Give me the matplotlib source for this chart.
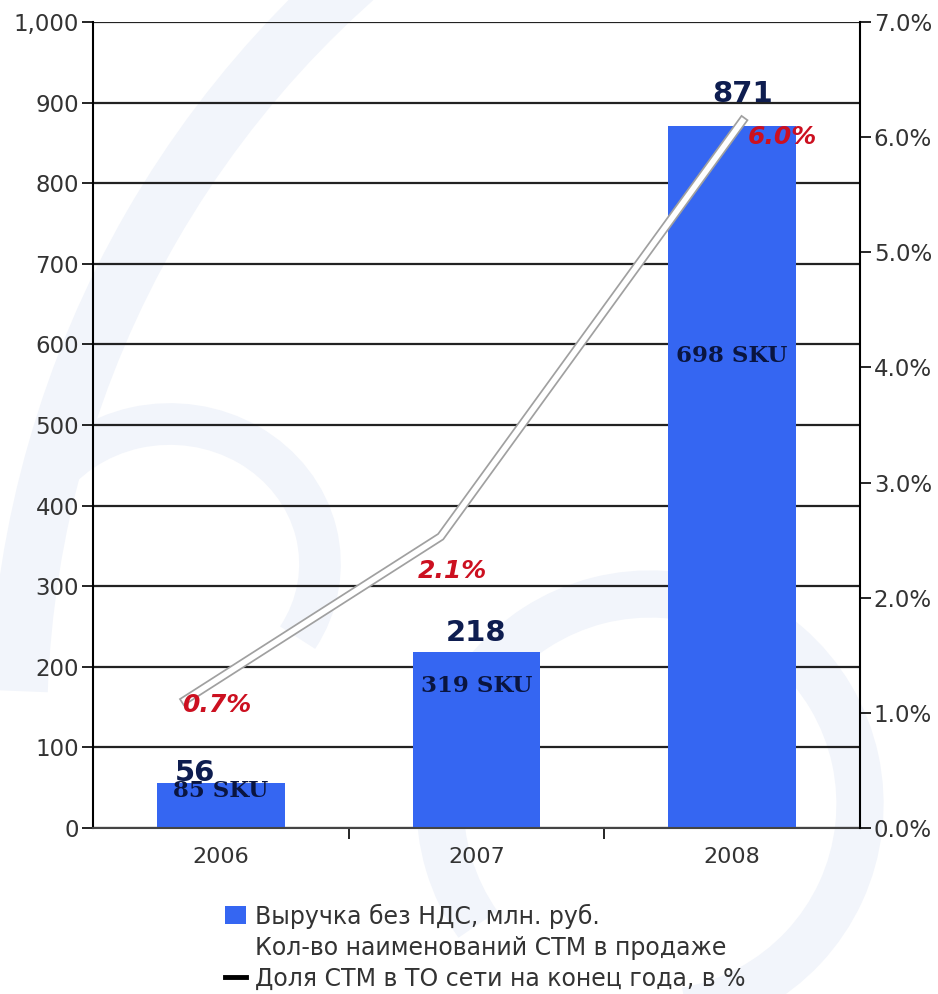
import matplotlib.pyplot as plt
import matplotlib.patheffects as pe
from matplotlib.patches import Arc, Patch
from matplotlib.lines import Line2D
from matplotlib.ticker import FuncFormatter, MultipleLocator, FixedLocator

years = ['2006', '2007', '2008']
revenue = [56, 218, 871]
sku_labels = ['85 SKU', '319 SKU', '698 SKU']
sku_label_val = [46, 176, 585]       # vertical position of SKU labels (left-axis units)
share_pos = [-0.14, 0.86, 2.04]      # where the share line points sit along x
share_drawn = [1.11, 2.53, 6.14]     # share line as drawn (%)
share_labels = ['0.7%', '2.1%', '6.0%']
share_label_x = [-0.15, 0.77, 2.06]
share_label_y = [1.07, 2.23, 6.0]
value_label_x = [-0.1, 0.0, 0.04]
value_label_gap = [-5, 6, 22]

bar_color = '#3566F2'
navy = '#0E1D50'
red = '#CC1020'
grey_txt = '#333333'

fig = plt.figure(figsize=(9.38, 9.94), dpi=100)

# faint watermark behind the chart (pixel units, y up)
bg = fig.add_axes([0, 0, 1, 1], zorder=-5)
bg.set_xlim(0, 938)
bg.set_ylim(0, 994)
bg.axis('off')
wm = '#F2F5FB'
bg.add_patch(Arc((1018, 268), 2000, 2000, theta1=122, theta2=178, lw=42, color=wm))
bg.add_patch(Arc((650, 190), 420, 420, theta1=-80, theta2=215, lw=34, color=wm))
bg.add_patch(Arc((170, 430), 300, 280, theta1=-30, theta2=150, lw=30, color=wm))

ax = fig.add_axes([0.0991, 0.167, 0.8177, 0.8109])
ax.patch.set_alpha(0)
x = range(len(years))
ax.bar(x, revenue, width=0.5, color=bar_color, zorder=2)
ax.set_xlim(-0.5, 2.5)
ax.set_ylim(0, 1000)
ax.yaxis.set_major_locator(MultipleLocator(100))
ax.yaxis.set_major_formatter(FuncFormatter(lambda v, p: f'{int(v):,}'))
ax.grid(axis='y', color='#222222', lw=1.6, zorder=1)
ax.set_xticks(list(x))
ax.set_xticklabels(years)
ax.xaxis.set_minor_locator(FixedLocator([0.5, 1.5]))
ax.tick_params(axis='x', which='major', length=0, pad=14, labelsize=16, labelcolor=grey_txt)
ax.tick_params(axis='x', which='minor', length=8, width=1.2, direction='out')
ax.tick_params(axis='y', length=8, width=1.2, labelsize=16.5, labelcolor=grey_txt, pad=2)
for s in ['top', 'right']:
    ax.spines[s].set_visible(False)
ax.spines['left'].set_linewidth(1.5)
ax.spines['bottom'].set_linewidth(1.5)
ax.spines['bottom'].set_color('#444444')

for i, v in enumerate(revenue):
    ax.text(i + value_label_x[i], v + value_label_gap[i], str(v), ha='center', va='bottom',
            fontsize=21, fontweight='bold', color=navy, zorder=5)
for i, (lab, yy) in enumerate(zip(sku_labels, sku_label_val)):
    ax.text(i, yy, lab, ha='center', va='center', family='DejaVu Serif',
            fontsize=16.5, fontweight='bold', color='#0A1540', zorder=5)

ax2 = ax.twinx()
ax2.set_ylim(0, 7)
ax2.yaxis.set_major_locator(MultipleLocator(1))
ax2.yaxis.set_major_formatter(FuncFormatter(lambda v, p: f'{v:.1f}%'))
ax2.tick_params(axis='y', length=8, width=1.2, labelsize=16.5, labelcolor=grey_txt, pad=2)
for s in ['top', 'left', 'bottom']:
    ax2.spines[s].set_visible(False)
ax2.spines['right'].set_linewidth(1.5)

ax2.plot(share_pos, share_drawn, color='white', lw=4, solid_joinstyle='miter', zorder=4,
         path_effects=[pe.Stroke(linewidth=6.5, foreground='#A0A0A0'), pe.Normal()])
for lx, lab, yy in zip(share_label_x, share_labels, share_label_y):
    ax2.text(lx, yy, lab, ha='left', va='center', fontsize=18, fontweight='bold',
             style='italic', color=red, zorder=6)

handles = [Patch(facecolor=bar_color, edgecolor='none'),
           Line2D([], [], color='none'),
           Line2D([], [], color='black', lw=3.5)]
labels = ['Выручка без НДС, млн. руб.', 'Кол-во наименований СТМ в продаже',
          'Доля СТМ в ТО сети на конец года, в %']
fig.legend(handles, labels, loc='upper left', bbox_to_anchor=(0.227, 0.103), frameon=False,
           fontsize=17, labelcolor=grey_txt, handlelength=0.9, handleheight=0.8,
           handletextpad=0.4, labelspacing=0.3, borderpad=0)

plt.savefig('out.png', dpi=100)
plt.close(fig)
